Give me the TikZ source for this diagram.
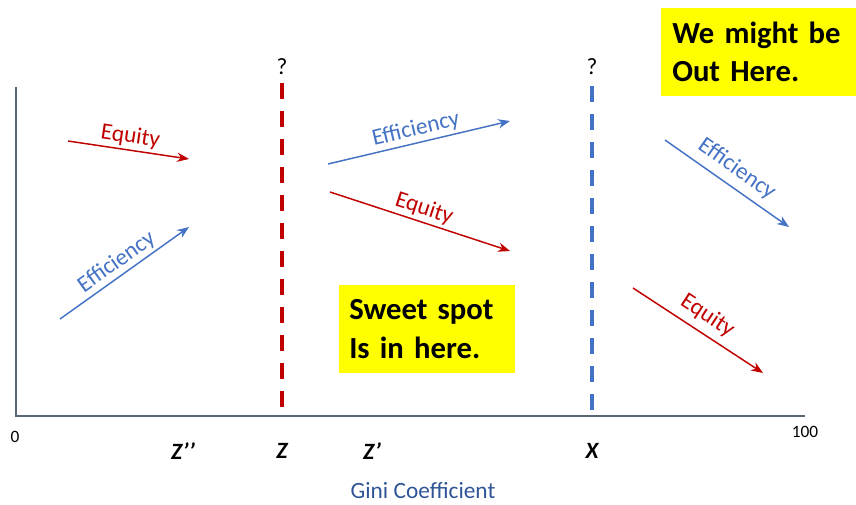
\documentclass[tikz,border=0pt]{standalone}
\usepackage{fontspec}
\setmainfont{Carlito}
\usepackage{tikz}
\usetikzlibrary{
  arrows.meta,
  positioning,
  calc
}
\definecolor{giRed}{HTML}{C00000}
\definecolor{giBlue}{HTML}{4472C4}
\definecolor{giAxis}{HTML}{5A6775}
\definecolor{giTitle}{HTML}{2F5597}
\definecolor{giNote}{HTML}{FFFF00}
\tikzset{
  axisline/.style={line width=1.5pt, giAxis},
  cutline/.style={line width=3pt, dash pattern=on 12pt off 9pt},
  trend/.style={-{Stealth[length=9pt, width=7pt, inset=3pt]}, line width=1.1pt},
  eqarrow/.style={trend, giRed},
  effarrow/.style={trend, giBlue},
  trendlabel/.style={font=\fontsize{17.5}{21}\selectfont, sloped, above, midway, inner sep=2pt},
  note/.style={
    fill=giNote, font=\fontsize{23}{29}\selectfont\bfseries, align=left,
    inner ysep=0pt, minimum height=66pt, anchor=west
  },
  ticklabel/.style={font=\fontsize{13}{15}\selectfont},
  zlabel/.style={font=\fontsize{17.5}{21}\selectfont\bfseries\itshape},
  qmark/.style={font=\fontsize{17.5}{21}\selectfont}
}

\begin{document}
\begin{tikzpicture}[x=0.75pt, y=-0.75pt]
  \useasboundingbox (0,0) rectangle (856,504);
  % axes
  \coordinate (origin) at (16,416);
  \coordinate (ytop) at (16,87);
  \coordinate (xend) at (805,416);
  \draw[axisline] (ytop) -- (origin) -- (xend);
  \node[ticklabel] (zero) at (15,437) {0};
  \node[ticklabel] (hundred) at (805,432) {100};
  \node[zlabel] (zpp) at (183,451) {Z’’};
  \node[zlabel] (z) at (282,451) {Z};
  \node[zlabel] (zp) at (372,451) {Z’};
  \node[zlabel] (x) at (592,451) {X};
  \node[font=\fontsize{17.5}{21}\selectfont, text=giTitle] (gini) at (423,491) {Gini Coefficient};
  % cut-off lines
  \node[qmark] (zq) at (282,67) {?};
  \coordinate (ztop) at (282,83);
  \coordinate (zbot) at (282,407);
  \draw[cutline, giRed] (ztop) -- (zbot);
  \node[qmark] (xq) at (592,67) {?};
  \coordinate (xtop) at (592,86);
  \coordinate (xbot) at (592,410);
  \draw[cutline, giBlue, line width=2.6pt] (xtop) -- (xbot);
  % trends left of Z
  \coordinate (eqL1) at (68,141);
  \coordinate (eqL2) at (189,159);
  \draw[eqarrow] (eqL1) -- node[trendlabel] {Equity} (eqL2);
  \coordinate (effL1) at (60,319);
  \coordinate (effL2) at (189,227);
  \draw[effarrow] (effL1) -- node[trendlabel] {Efficiency} (effL2);
  % trends between Z and X
  \coordinate (effM1) at (328,164);
  \coordinate (effM2) at (510,121);
  \draw[effarrow] (effM1) -- node[trendlabel] {Efficiency} (effM2);
  \coordinate (eqM1) at (330,192);
  \coordinate (eqM2) at (510,251);
  \draw[eqarrow] (eqM1) -- node[trendlabel] {Equity} (eqM2);
  % trends right of X
  \coordinate (effR1) at (665,140);
  \coordinate (effR2) at (789,227);
  \draw[effarrow] (effR1) -- node[trendlabel, above=3pt] {Efficiency} (effR2);
  \coordinate (eqR1) at (633,288);
  \coordinate (eqR2) at (763,373);
  \draw[eqarrow] (eqR1) -- node[trendlabel, above=3pt] {Equity} (eqR2);
  % notes
  \node[note, inner xsep=7.5pt, text width=117pt, minimum width=132pt] (sweet) at (339,329) {Sweet spot\\Is in here.};
  \node[note, inner xsep=8.25pt, text width=150pt, minimum width=166.5pt] (outhere) at (661,52) {We might be\\Out Here.};
\end{tikzpicture}
\end{document}
